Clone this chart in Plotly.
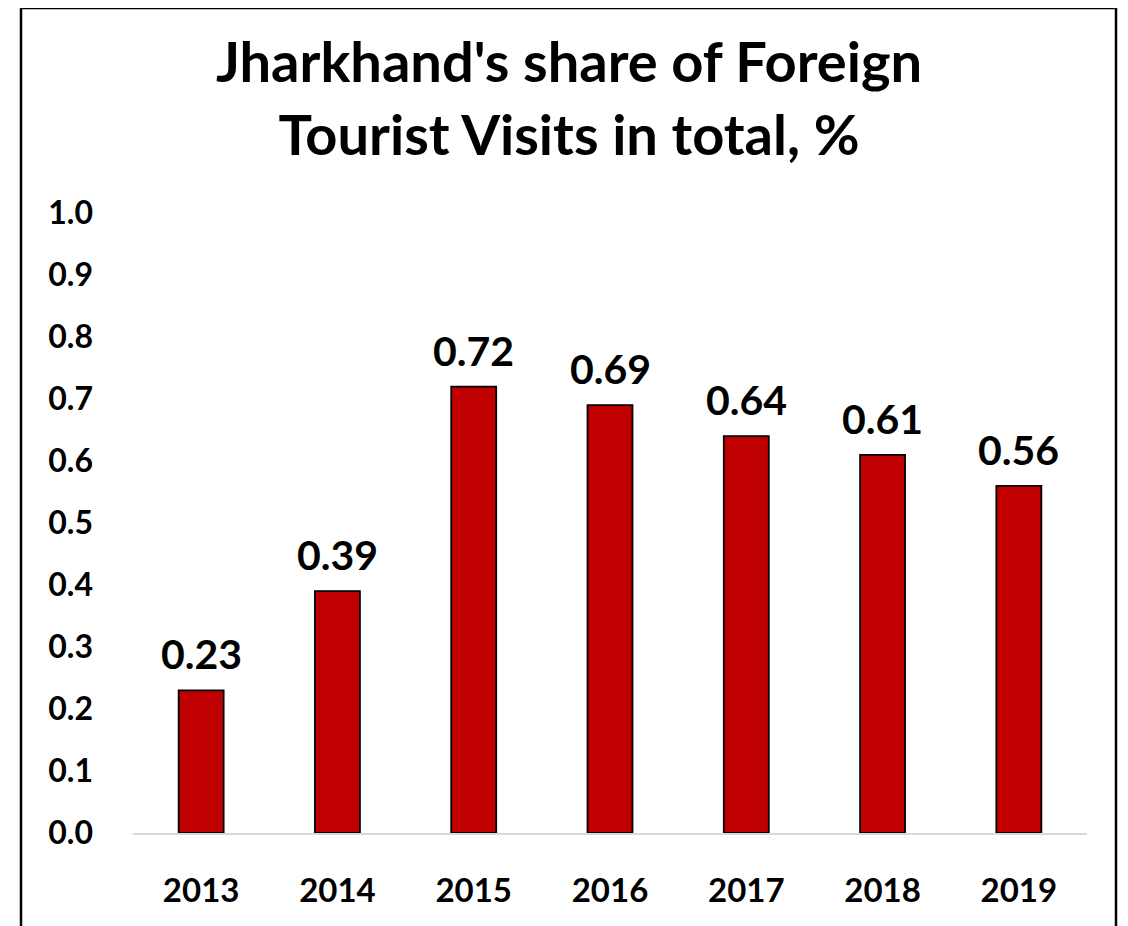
import plotly.graph_objects as go

years = ["2013", "2014", "2015", "2016", "2017", "2018", "2019"]
share = [0.23, 0.39, 0.72, 0.69, 0.64, 0.61, 0.56]
y_ticks = [0.0, 0.1, 0.2, 0.3, 0.4, 0.5, 0.6, 0.7, 0.8, 0.9, 1.0]

W, H = 1128, 926
OFF = 8  # page body margin shifts the figure by this much
L, R, T, B = 133 - OFF, 41 + OFF, 213 - OFF, 93 + OFF
FONT = "Lato, sans-serif"

fig = go.Figure()
fig.add_trace(go.Bar(
    x=years, y=share,
    marker=dict(color="#C00000", line=dict(color="black", width=1.8)),
    width=0.33,
    cliponaxis=False,
))

# value labels above the bars (category index as x, year strings look numeric)
for i, v in enumerate(share):
    fig.add_annotation(
        x=i, y=v, text=f"{v:.2f}", showarrow=False,
        xanchor="center", yanchor="bottom", yshift=10,
        font=dict(family=FONT, size=41, color="black", weight="bold"),
    )

# outer chart border (left, top, right), given in screen pixels, converted to paper coords
pw, ph = W - L - R, H - T - B
def px_x(x):
    return (x - OFF - L) / pw
def px_y(y):
    return (H - B - (y - OFF)) / ph

for x0, y0, x1, y1 in [(21, 8, 21, 960), (21, 8, 1116, 8), (1116, 8, 1116, 960)]:
    fig.add_shape(type="line", xref="paper", yref="paper",
                  x0=px_x(x0), y0=px_y(y0), x1=px_x(x1), y1=px_y(y1),
                  line=dict(color="black", width=2.5))

fig.update_layout(
    width=W, height=H,
    margin=dict(l=L, r=R, t=T, b=B),
    paper_bgcolor="white", plot_bgcolor="white",
    showlegend=False,
    title=dict(
        text="Jharkhand's share of Foreign<br>Tourist Visits in total, %",
        x=(569 - OFF) / W, xref="container", xanchor="center",
        y=1 - 74 / H, yanchor="middle",
        font=dict(family=FONT, size=56, color="black", weight="bold"),
    ),
)
fig.update_xaxes(
    type="category",
    showline=True, linecolor="#d9d9d9", linewidth=2,
    showgrid=False, ticks="", ticklabelstandoff=27,
    tickfont=dict(family=FONT, size=33, color="black", weight="bold"),
)
fig.update_yaxes(
    range=[0, 1.0], tickvals=y_ticks, ticktext=[f"{v:.1f}" for v in y_ticks],
    showgrid=False, zeroline=False, showline=False, ticks="",
    ticklabelstandoff=39,
    tickfont=dict(family=FONT, size=32, color="black", weight="bold"),
)

fig.write_html("out.html")
